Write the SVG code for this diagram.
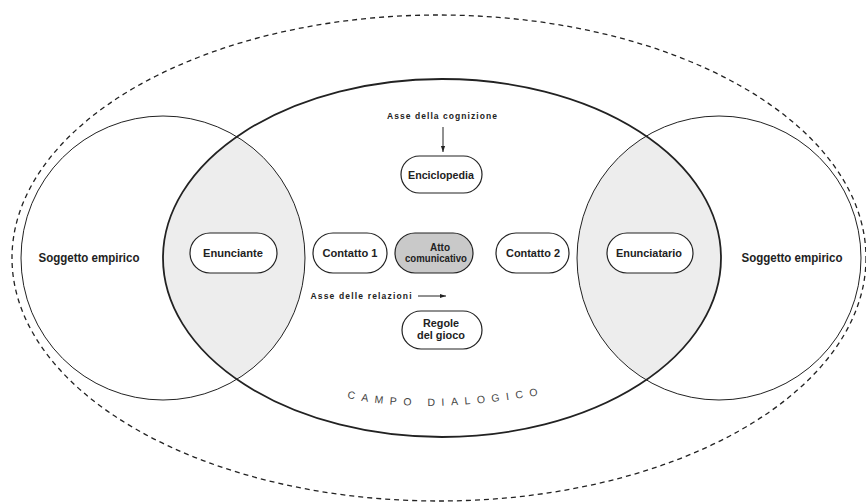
<svg xmlns="http://www.w3.org/2000/svg" width="866" height="502" viewBox="0 0 866 502">
<style>
.lbl{font-family:"Liberation Sans",Arial,sans-serif;font-weight:bold;fill:#222;text-anchor:middle}
.node{font-size:11px}
.two{font-size:10px}
.axis{font-size:8.5px}
.pill{fill:#fff;stroke:#222;stroke-width:1.2}
.pill.hl{fill:#c9c9c9}
.campo{font-family:"Liberation Sans",Arial,sans-serif;font-size:10.5px;fill:#444;letter-spacing:6.6px}
</style>
<defs>
<clipPath id="bigclip"><ellipse cx="442" cy="258" rx="279" ry="179"/></clipPath>
<marker id="ah" viewBox="0 0 10 10" refX="10" refY="5" markerWidth="6" markerHeight="6" markerUnits="userSpaceOnUse" orient="auto"><path d="M0,1.5 L10,5 L0,8.5 Z" fill="#222"/></marker>
<path id="arc" d="M 347 398 Q 430 416 550 393"/>
</defs>
<rect width="866" height="502" fill="#fff"/>
<g id="fields">
<g clip-path="url(#bigclip)" fill="#ededed">
<circle cx="163" cy="258" r="142"/>
<circle cx="719" cy="258" r="142"/>
</g>
<circle cx="163" cy="258" r="142" fill="none" stroke="#222" stroke-width="1"/>
<circle cx="719" cy="258" r="142" fill="none" stroke="#222" stroke-width="1"/>
<ellipse cx="442" cy="258" rx="279" ry="179" fill="none" stroke="#222" stroke-width="1.8"/>
<ellipse cx="439" cy="258" rx="427" ry="243" fill="none" stroke="#222" stroke-width="1.3" stroke-dasharray="5 4"/>
<text class="campo"><textPath href="#arc">CAMPO DIALOGICO</textPath></text>
</g>
<g id="soggetto-sx"><text class="lbl" x="89" y="262" font-size="12" textLength="101" lengthAdjust="spacingAndGlyphs">Soggetto empirico</text></g>
<g id="soggetto-dx"><text class="lbl" x="792" y="262" font-size="12" textLength="101" lengthAdjust="spacingAndGlyphs">Soggetto empirico</text></g>
<g id="enunciante"><rect class="pill" x="190" y="233" width="87" height="40" rx="20"/><text class="lbl node" x="233" y="257" textLength="60" lengthAdjust="spacingAndGlyphs">Enunciante</text></g>
<g id="contatto1"><rect class="pill" x="313" y="233" width="74" height="40" rx="20"/><text class="lbl node" x="350" y="257" textLength="55" lengthAdjust="spacingAndGlyphs">Contatto 1</text></g>
<g id="atto"><rect class="pill hl" x="395" y="233" width="78" height="40" rx="20"/><text class="lbl two" x="440" y="251" textLength="20" lengthAdjust="spacingAndGlyphs">Atto</text><text class="lbl two" x="436" y="262" textLength="62" lengthAdjust="spacingAndGlyphs">comunicativo</text></g>
<g id="contatto2"><rect class="pill" x="496" y="233" width="73" height="40" rx="20"/><text class="lbl node" x="533" y="257" textLength="54" lengthAdjust="spacingAndGlyphs">Contatto 2</text></g>
<g id="enunciatario"><rect class="pill" x="607" y="233" width="86" height="40" rx="20"/><text class="lbl node" x="649" y="257" textLength="66" lengthAdjust="spacingAndGlyphs">Enunciatario</text></g>
<g id="enciclopedia"><rect class="pill" x="401" y="156" width="81" height="37" rx="18.5"/><text class="lbl node" x="441" y="179" textLength="66" lengthAdjust="spacingAndGlyphs">Enciclopedia</text></g>
<g id="regole"><rect class="pill" x="402" y="311" width="80" height="38" rx="19"/><text class="lbl two" x="441" y="327" textLength="36" lengthAdjust="spacingAndGlyphs">Regole</text><text class="lbl two" x="441" y="339" textLength="48" lengthAdjust="spacingAndGlyphs">del gioco</text></g>
<g id="asse-cognizione"><text class="lbl axis" x="442" y="119" textLength="110" lengthAdjust="spacing">Asse della cognizione</text></g>
<g id="asse-relazioni"><text class="lbl axis" x="361" y="299" textLength="101" lengthAdjust="spacing">Asse delle relazioni</text></g>
<g id="connectors" stroke="#222" stroke-width="1" fill="none">
<line x1="443" y1="127" x2="443" y2="152" marker-end="url(#ah)"/>
<line x1="418" y1="296" x2="446" y2="296" marker-end="url(#ah)"/>
</g>
</svg>
